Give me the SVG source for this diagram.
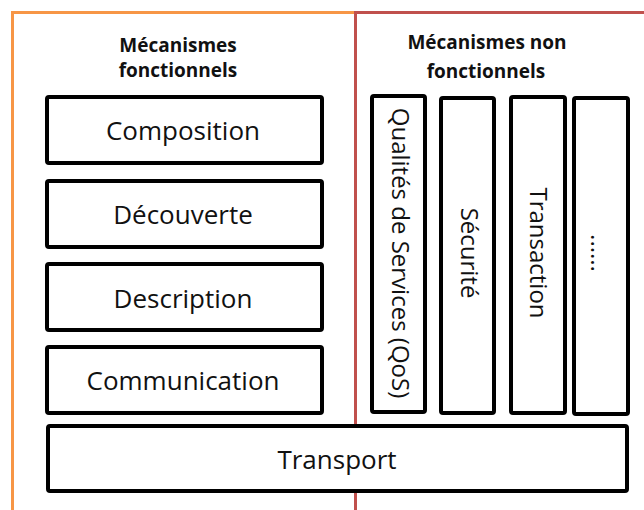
<svg xmlns="http://www.w3.org/2000/svg" width="644" height="510" viewBox="0 0 644 510">
<style>
.box{fill:#fff;stroke:#000;stroke-width:4;}
.t{font-family:"Open Sans","Liberation Sans",sans-serif;font-size:24px;fill:#111;text-anchor:middle;dominant-baseline:central;}
.b{font-size:26px;}
.h{font-family:"Open Sans","Liberation Sans",sans-serif;font-size:19px;font-weight:bold;fill:#111;text-anchor:middle;}
</style>
<rect width="644" height="510" fill="#fff"/>
<g id="frame-fonctionnels">
<path d="M12.5 515 V12.5 H356" fill="none" stroke="#F79646" stroke-width="3"/>
<text class="h" x="178" y="52">Mécanismes</text>
<text class="h" x="178" y="77">fonctionnels</text>
</g>
<g id="frame-non-fonctionnels">
<path d="M355.5 515 V12.5 H650" fill="none" stroke="#C0504D" stroke-width="3"/>
<text class="h" x="487" y="49">Mécanismes non</text>
<text class="h" x="486" y="78">fonctionnels</text>
</g>
<g id="composition"><rect class="box" x="47" y="97" width="275" height="66" rx="2"/><text class="t b" x="183" y="130">Composition</text></g>
<g id="decouverte"><rect class="box" x="47" y="181" width="275" height="66" rx="2"/><text class="t b" x="183" y="214">Découverte</text></g>
<g id="description"><rect class="box" x="47" y="264" width="275" height="66" rx="2"/><text class="t b" x="183" y="298">Description</text></g>
<g id="communication"><rect class="box" x="47" y="347" width="275" height="66" rx="2"/><text class="t b" x="183" y="380">Communication</text></g>
<g id="qos"><rect class="box" x="372" y="96" width="53" height="316" rx="2"/><text class="t" transform="translate(401 253) rotate(90)">Qualités de Services (QoS)</text></g>
<g id="securite"><rect class="box" x="441" y="98" width="53" height="315" rx="2"/><text class="t" transform="translate(470 253) rotate(90)">Sécurité</text></g>
<g id="transaction"><rect class="box" x="511" y="97" width="54" height="316" rx="2"/><text class="t" transform="translate(539 253) rotate(90)">Transaction</text></g>
<g id="autres"><rect class="box" x="574" y="98" width="54" height="316" rx="2"/><text class="t" transform="translate(600 253) rotate(90)">......</text></g>
<g id="transport"><rect class="box" x="48" y="426" width="579" height="65" rx="2"/><text class="t b" x="337" y="459">Transport</text></g>
<g id="connectors"></g>
</svg>
